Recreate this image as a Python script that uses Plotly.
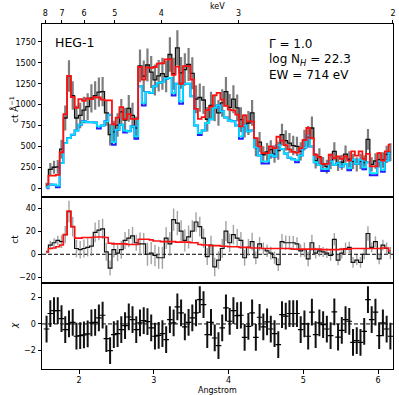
import plotly.graph_objects as go

# ---------------- data ----------------
WAVE = [1.565, 1.615, 1.665, 1.715, 1.765, 1.815, 1.865, 1.915, 1.965, 2.015,
        2.065, 2.115, 2.165, 2.215, 2.265, 2.315, 2.365, 2.415, 2.465, 2.515,
        2.565, 2.615, 2.665, 2.715, 2.765, 2.815, 2.865, 2.915, 2.965, 3.015,
        3.065, 3.115, 3.165, 3.215, 3.265, 3.315, 3.365, 3.415, 3.465, 3.515,
        3.565, 3.615, 3.665, 3.715, 3.765, 3.815, 3.865, 3.915, 3.965, 4.015,
        4.065, 4.115, 4.165, 4.215, 4.265, 4.315, 4.365, 4.415, 4.465, 4.515,
        4.565, 4.615, 4.665, 4.715, 4.765, 4.815, 4.865, 4.915, 4.965, 5.015,
        5.065, 5.115, 5.165, 5.215, 5.265, 5.315, 5.365, 5.415, 5.465, 5.515,
        5.565, 5.615, 5.665, 5.715, 5.765, 5.815, 5.865, 5.915, 5.965, 6.015,
        6.065, 6.115, 6.165]

# top panel: data (ct/A), errors, models
DATA_TOP = [35, 225, 250, 255, 468, 840, 1343, 1108, 840, 870,
            935, 975, 1076, 1108, 1150, 1155, 900, 640, 673, 755,
            913, 815, 955, 870, 720, 1464, 1340, 1474, 1390, 1295,
            1345, 1370, 1335, 1600, 1370, 1680, 1380, 1420, 1480, 1375,
            1065, 1085, 1055, 825, 992, 960, 900, 1020, 1155, 967,
            1065, 960, 820, 745, 780, 900, 495, 550, 400, 433,
            462, 410, 450, 640, 570, 540, 510, 500, 440, 575,
            615, 720, 328, 377, 286, 258, 320, 440, 295, 310,
            408, 346, 320, 285, 320, 305, 585, 285, 325, 340,
            337, 405, 430]
ERR_TOP = [30, 75, 79, 82, 112, 150, 189, 171, 150, 152,
           158, 161, 169, 171, 175, 175, 154, 130, 133, 141,
           155, 147, 159, 152, 138, 197, 189, 198, 192, 185,
           189, 191, 187, 206, 191, 210, 191, 194, 198, 191,
           168, 169, 167, 147, 162, 160, 154, 164, 175, 160,
           168, 160, 147, 140, 144, 154, 114, 121, 102, 107,
           110, 105, 109, 130, 123, 120, 116, 115, 108, 123,
           128, 138, 93, 100, 87, 83, 92, 108, 89, 91,
           104, 95, 92, 86, 92, 90, 124, 86, 93, 94,
           94, 104, 107]
MODEL_RED = [45, 150, 150, 160, 430, 885, 1343, 1090, 960, 1065,
             1045, 1075, 1065, 1090, 1085, 1060, 1050, 1050, 765, 845,
             970, 830, 885, 830, 830, 1450, 1300, 1445, 1440, 1450,
             1490, 1495, 1540, 1545, 1355, 1455, 1250, 1460, 1460, 1300,
             950, 830, 850, 935, 975, 1110, 1140, 1060, 985, 940,
             930, 880, 740, 870, 800, 800, 600, 500, 420, 420,
             500, 480, 615, 570, 515, 465, 435, 425, 480, 575,
             720, 600, 400, 370, 290, 290, 400, 360, 380, 350,
             380, 330, 440, 390, 440, 350, 410, 260, 260, 420,
             330, 440, 520]
MODEL_CYAN = [8, 45, 42, 30, 300, 540, 600, 640, 690, 760,
              800, 790, 790, 785, 740, 750, 800, 880, 550, 700,
              760, 690, 680, 740, 620, 1220, 1020, 1150, 1140, 1220,
              1260, 1270, 1310, 1320, 1140, 1250, 1040, 1250, 1250, 1100,
              750, 660, 690, 780, 825, 960, 990, 920, 845, 810,
              800, 750, 620, 750, 680, 690, 490, 390, 320, 320,
              400, 380, 515, 470, 415, 365, 345, 335, 390, 485,
              630, 500, 310, 280, 230, 230, 320, 280, 300, 260,
              290, 240, 340, 290, 340, 250, 310, 180, 180, 320,
              220, 330, 420]
MODEL_BLUE = [0, 45, 42, 10, 300, 540, 600, 640, 690, 760,
              800, 790, 790, 785, 715, 750, 800, 880, 520, 700,
              760, 665, 680, 740, 590, 1220, 990, 1150, 1140, 1220,
              1260, 1270, 1310, 1320, 1110, 1250, 1010, 1250, 1250, 1100,
              750, 635, 690, 780, 825, 960, 990, 920, 845, 810,
              800, 750, 590, 750, 680, 690, 490, 390, 295, 295,
              400, 380, 515, 470, 415, 365, 345, 310, 390, 485,
              630, 500, 310, 280, 205, 205, 320, 280, 300, 260,
              290, 215, 340, 290, 340, 225, 310, 155, 155, 320,
              195, 330, 420]

# middle panel: excess counts, errors, line model
DATA_MID = [2, 8, 10, 12, 11, 17, 37, 24, 5, 4,
            5, 6, 7, 19, 21, 22, 2, -12, 4, 1,
            4, 12, 14, 16, 10, 9, 9, 0, 1, -1,
            -3, -3, 14, 9, 30, 27, 20, 12, 15, 20,
            28, 24, 14, -2, 8, -11, -5, 5, 20, 10,
            17, 14, 12, -3, 6, 11, -3, 9, 5, 3,
            1, -3, -9, 11, 10, 10, 10, 9, 3, 4,
            -4, 10, 1, 3, 2, 1, -1, 13, -5, 1,
            5, 6, -7, -5, -7, 0, 18, 6, 11, -4,
            8, 5, 1]
ERR_MID = [1.5, 3.8, 4.0, 4.1, 5.6, 7.5, 9.5, 8.6, 7.5, 7.6,
           7.9, 8.0, 8.5, 8.6, 8.8, 8.8, 7.7, 6.5, 6.7, 7.0,
           7.8, 7.4, 8.0, 7.6, 6.9, 9.9, 9.5, 9.9, 9.6, 9.3,
           9.5, 9.6, 9.4, 10.3, 9.6, 10.5, 9.6, 9.7, 9.9, 9.6,
           8.4, 8.5, 8.4, 7.4, 8.1, 8.0, 7.7, 8.2, 8.8, 8.0,
           8.4, 8.0, 7.4, 7.0, 7.2, 7.7, 5.7, 6.0, 5.1, 5.4,
           5.5, 5.3, 5.5, 6.5, 6.2, 6.0, 5.8, 5.8, 5.4, 6.2,
           6.4, 6.9, 4.7, 5.0, 4.4, 4.2, 4.6, 5.4, 4.5, 4.6,
           5.2, 4.8, 4.6, 4.3, 4.6, 4.5, 6.2, 4.3, 4.7, 4.7,
           4.7, 5.2, 5.4]
MODEL_MID = [2, 5, 5.5, 6.5, 8, 17, 37.5, 24, 14, 14,
             14.5, 14.5, 14.5, 15, 15, 15, 14.5, 9.5, 9, 9,
             9, 9, 8.5, 8.5, 8.5, 13, 13, 13, 12.5, 11.5,
             11.5, 11, 11, 11, 11, 10.5, 10.5, 10.5, 10.5, 10,
             10, 8.5, 8, 8, 7.5, 7.5, 7.5, 7, 7, 6.5,
             6.5, 6.5, 6, 6, 6, 5.5, 5.5, 5.5, 5, 5,
             5, 5, 5, 5, 5, 5, 4.5, 4.5, 4.5, 4.5,
             4.5, 4.5, 4.5, 4.5, 4, 4, 4, 4, 4, 4.5,
             4.5, 4.5, 5, 5, 5, 5, 5, 5, 5, 5,
             5.5, 5.5, 3]

# bottom panel: chi residuals (unit errors)
CHI = [-0.38, 0.78, 1.0, 1.0, 0.4, -0.42, 0.0, 0.12, -0.92, -0.88,
       -0.82, -0.75, 0.08, 0.12, 0.45, 0.65, -1.1, -2.0, -0.8, -0.72,
       -0.42, -0.12, 0.52, 0.32, -0.42, 0.08, 0.25, 0.17, -0.3, -0.92,
       -0.85, -0.72, -1.18, 0.32, 0.08, 1.28, 0.82, -0.22, 0.12, 0.45,
       0.82, 1.82, 1.45, -0.8, 0.12, -1.05, -1.62, -0.3, 1.2, 0.2,
       1.0, 0.62, 0.65, -1.0, -0.18, 0.82, -1.0, 0.5, -0.22, 0.15,
       -0.38, -0.72, -1.55, 0.7, 0.58, 0.78, 0.78, 0.78, -0.42, 0.0,
       -0.92, 0.88, -0.8, 0.08, -0.05, -0.38, -0.88, 0.9, -0.98, -0.48,
       0.32, 0.2, -1.38, -1.25, -1.38, -0.55, 1.82, 0.32, 0.88, -0.88,
       0.08, -0.38, -0.92]

KEV_TICKS = [8, 7, 6, 5, 4, 3, 2]
HC = 12.398  # keV * Angstrom
TOP_Y_TICKS = [0, 250, 500, 750, 1000, 1250, 1500, 1750]
MID_Y_TICKS = [-20, 0, 20, 40]
BOT_Y_TICKS = [-2, 0, 2]
X_TICKS = [2, 3, 4, 5, 6]

FONT = "DejaVu Sans"
XR = [1.504, 6.2]

fig = go.Figure()

# ---- top panel ----
fig.add_trace(go.Scatter(x=WAVE, y=DATA_TOP, mode="markers",
                         marker=dict(size=1, color="rgba(0,0,0,0)"),
                         error_y=dict(type="data", array=ERR_TOP, color="rgba(70,70,70,0.7)",
                                      thickness=2.2, width=0),
                         xaxis="x", yaxis="y", showlegend=False, hoverinfo="skip"))
fig.add_trace(go.Scatter(x=WAVE, y=DATA_TOP, mode="lines",
                         line=dict(shape="hvh", color="#111111", width=1.3),
                         xaxis="x", yaxis="y", showlegend=False))
fig.add_trace(go.Scatter(x=WAVE, y=MODEL_BLUE, mode="lines",
                         line=dict(shape="hvh", color="#2020ff", width=2.0),
                         xaxis="x", yaxis="y", showlegend=False))
fig.add_trace(go.Scatter(x=WAVE, y=MODEL_CYAN, mode="lines",
                         line=dict(shape="hvh", color="#00e5ff", width=1.8),
                         xaxis="x", yaxis="y", showlegend=False))
fig.add_trace(go.Scatter(x=WAVE, y=MODEL_RED, mode="lines",
                         line=dict(shape="hvh", color="#ff1010", width=1.8),
                         xaxis="x", yaxis="y", showlegend=False))
# dummy trace to carry the keV axis
fig.add_trace(go.Scatter(x=[WAVE[0]], y=[None], mode="lines", xaxis="x4", yaxis="y",
                         showlegend=False, hoverinfo="skip"))

# ---- middle panel ----
fig.add_trace(go.Scatter(x=WAVE, y=DATA_MID, mode="markers",
                         marker=dict(size=1, color="rgba(0,0,0,0)"),
                         error_y=dict(type="data", array=ERR_MID, color="rgba(140,140,140,0.8)",
                                      thickness=1.4, width=0),
                         xaxis="x2", yaxis="y2", showlegend=False))
fig.add_trace(go.Scatter(x=WAVE, y=DATA_MID, mode="lines",
                         line=dict(shape="hvh", color="#111111", width=1.2),
                         xaxis="x2", yaxis="y2", showlegend=False))
fig.add_trace(go.Scatter(x=WAVE, y=MODEL_MID, mode="lines",
                         line=dict(shape="hvh", color="#ff1010", width=1.6),
                         xaxis="x2", yaxis="y2", showlegend=False))

# ---- bottom panel ----
fig.add_trace(go.Scatter(x=WAVE, y=CHI, mode="markers",
                         marker=dict(symbol="line-ew", size=4, color="black",
                                     line=dict(color="black", width=1.2)),
                         error_y=dict(type="constant", value=1, color="#111111",
                                      thickness=2, width=0),
                         xaxis="x3", yaxis="y3", showlegend=False))

axis_common = dict(showline=True, linecolor="black", linewidth=1, mirror=True,
                   showgrid=False, zeroline=False, ticks="outside", ticklen=3.5,
                   tickwidth=0.8, tickcolor="black",
                   tickfont=dict(family=FONT, size=8, color="black"))

fig.update_layout(
    width=399, height=395,
    margin=dict(l=42, r=4, t=24, b=26),
    paper_bgcolor="white", plot_bgcolor="white",
    font=dict(family=FONT, size=8, color="black"),
    xaxis=dict(axis_common, domain=[0, 1], anchor="y", range=XR, ticks="", showticklabels=False),
    xaxis2=dict(axis_common, domain=[0, 1], anchor="y2", range=XR, ticks="", showticklabels=False),
    xaxis3=dict(axis_common, domain=[0, 1], anchor="y3", range=XR, tickvals=X_TICKS),
    xaxis4=dict(axis_common, overlaying="x", side="top", anchor="y", range=XR,
                tickvals=[HC / e for e in KEV_TICKS], ticktext=[str(e) for e in KEV_TICKS],
                mirror=False),
    yaxis=dict(axis_common, domain=[0.5, 1], anchor="x", range=[-100, 1965], tickvals=TOP_Y_TICKS),
    yaxis2=dict(axis_common, domain=[0.25, 0.5], anchor="x2", range=[-24.7, 50.1], tickvals=MID_Y_TICKS),
    yaxis3=dict(axis_common, domain=[0, 0.25], anchor="x3", range=[-3.37, 3.08], tickvals=BOT_Y_TICKS),
)

# dashed zero lines
for yref in ("y2", "y3"):
    fig.add_shape(type="line", xref="paper", x0=0, x1=1, yref=yref, y0=0, y1=0,
                  line=dict(color="black", width=1, dash="4px,2px"), layer="below")

ann = [
    dict(text="HEG-1", x=0.031, y=0.947, xanchor="left", yanchor="middle", size=12.5),
    dict(text="Γ = 1.0", x=0.640, y=0.941, xanchor="left", yanchor="middle", size=12),
    dict(text="log N<sub><i>H</i></sub> = 22.3", x=0.640, y=0.897, xanchor="left", yanchor="middle", size=12),
    dict(text="EW = 714 eV", x=0.640, y=0.852, xanchor="left", yanchor="middle", size=12),
    dict(text="keV", x=0.5, y=1.052, xanchor="center", yanchor="middle", size=8),
    dict(text="Angstrom", x=0.5, y=-0.061, xanchor="center", yanchor="middle", size=8),
]
for a in ann:
    fig.add_annotation(text=a["text"], xref="paper", yref="paper", x=a["x"], y=a["y"],
                       xanchor=a["xanchor"], yanchor=a["yanchor"], showarrow=False,
                       font=dict(family=FONT, size=a["size"], color="black"))

for txt, yy in (("ct Å<sup>−1</sup>", 0.751), ("ct", 0.375), ("<i>χ</i>", 0.125)):
    fig.add_annotation(text=txt, xref="paper", yref="paper", x=-0.0793, y=yy,
                       xanchor="center", yanchor="middle", textangle=-90, showarrow=False,
                       font=dict(family=FONT, size=9, color="black"))

fig.write_html("out.html",
               config={"displayModeBar": False},
               post_script="document.body.style.margin='0';document.body.style.overflow='hidden';")
